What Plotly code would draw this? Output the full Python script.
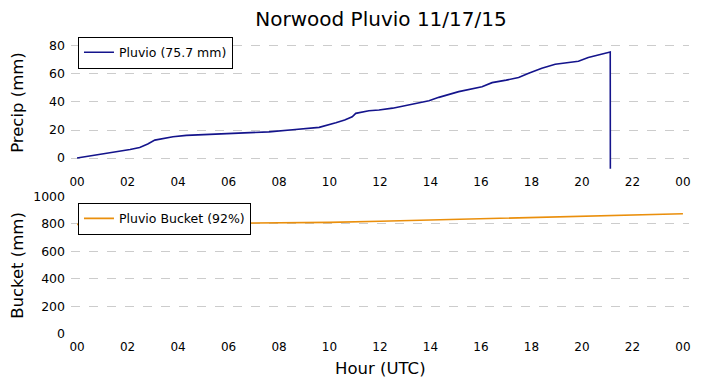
import plotly.graph_objects as go
from plotly.subplots import make_subplots

# ---- data ----
precip_hours = [0.0, 0.63, 1.43, 2.1, 2.48, 2.8, 3.08, 3.45, 3.80, 4.33, 5.25, 6.96, 7.6, 8.54,
                9.59, 10.25, 10.60, 10.90, 11.04, 11.56, 11.96, 12.5, 12.88, 13.94, 14.33,
                15.12, 16.04, 16.44, 17.00, 17.49, 17.89, 18.41, 18.94, 19.40, 19.86, 20.25,
                20.70, 21.12, 21.13]
precip_mm = [0.0, 1.7, 3.8, 6.1, 7.6, 10.0, 12.8, 14.2, 15.2, 16.2, 16.9, 17.8, 18.7, 20.2,
             21.9, 25.2, 27.2, 29.5, 31.9, 33.8, 34.3, 35.6, 37.1, 40.9, 43.3,
             47.4, 50.9, 53.8, 55.6, 57.4, 60.5, 64.1, 66.9, 67.8, 69.1, 71.7,
             73.5, 75.7, -100.0]

bucket_hours = [0.0, 3.0, 7.0, 8.5, 10.0, 12.0, 15.5, 18.2, 21.4, 24.0]
bucket_mm = [797, 800, 803, 806, 811, 819, 834, 845, 862, 874]

tick_hours = [0, 2, 4, 6, 8, 10, 12, 14, 16, 18, 20, 22, 24]
tick_labels = ["00", "02", "04", "06", "08", "10", "12", "14", "16", "18", "20", "22", "00"]

precip_ticks = [0, 20, 40, 60, 80]
bucket_ticks = [0, 200, 400, 600, 800, 1000]

title = "Norwood Pluvio 11/17/15"
precip_name = "Pluvio (75.7 mm)"
bucket_name = "Pluvio Bucket (92%)"

FONT = "DejaVu Sans"

fig = make_subplots(rows=2, cols=1, vertical_spacing=0.0)

fig.add_trace(go.Scatter(x=precip_hours, y=precip_mm, mode="lines", name=precip_name,
                         line=dict(color="#14148c", width=1.6), legend="legend"), row=1, col=1)
fig.add_trace(go.Scatter(x=bucket_hours, y=bucket_mm, mode="lines", name=bucket_name,
                         line=dict(color="#ea8f0c", width=1.6), legend="legend2"), row=2, col=1)

xcommon = dict(range=[-0.24, 24.24], tickmode="array", tickvals=tick_hours, ticktext=tick_labels,
               showgrid=False, zeroline=False, showline=False, ticks="",
               tickfont=dict(family=FONT, size=12, color="black"), ticklabelstandoff=4)
ycommon = dict(showgrid=True, gridcolor="#cccccc", griddash="dash", gridwidth=1,
               zeroline=False, showline=False, ticks="",
               tickfont=dict(family=FONT, size=12.5, color="black"), ticklabelstandoff=5)

fig.update_layout(
    width=703, height=388,
    margin=dict(l=71, r=12, t=36, b=54),
    paper_bgcolor="white", plot_bgcolor="white",
    font=dict(family=FONT, color="black"),
    title=dict(text=title, x=381 / 703, xanchor="center", y=1 - 19 / 388, yanchor="middle",
               font=dict(family=FONT, size=20, color="black")),
    xaxis=dict(domain=[0, 1], **xcommon),
    xaxis2=dict(domain=[0, 1], **xcommon),
    yaxis=dict(domain=[0.5547, 1.0], range=[-7.57, 87.06], tickvals=precip_ticks, **ycommon),
    yaxis2=dict(domain=[0.0, 0.4617], range=[0, 1000], tickvals=bucket_ticks, **ycommon),
    legend=dict(x=0.0113, y=0.998, xanchor="left", yanchor="top", bordercolor="black",
                borderwidth=1, bgcolor="white", font=dict(family=FONT, size=12.5, color="black"),
                itemwidth=30, tracegroupgap=0),
    legend2=dict(x=0.0113, y=0.4406, xanchor="left", yanchor="top", bordercolor="black",
                 borderwidth=1, bgcolor="white", font=dict(family=FONT, size=12.5, color="black"),
                 itemwidth=30, tracegroupgap=0),
    showlegend=True,
    annotations=[
        dict(text="Precip (mm)", xref="paper", yref="paper", x=(17.5 - 71) / 620, y=(334.3 - 102.5) / 298,
             xanchor="center", yanchor="middle", textangle=-90, showarrow=False,
             font=dict(family=FONT, size=16.5, color="black")),
        dict(text="Bucket (mm)", xref="paper", yref="paper", x=(17.5 - 71) / 620, y=(334.3 - 265.5) / 298,
             xanchor="center", yanchor="middle", textangle=-90, showarrow=False,
             font=dict(family=FONT, size=16.5, color="black")),
        dict(text="Hour (UTC)", xref="paper", yref="paper", x=(381 - 71) / 620, y=(334.3 - 369) / 298,
             xanchor="center", yanchor="middle", showarrow=False,
             font=dict(family=FONT, size=16.5, color="black")),
    ],
)

fig.write_html("out.html", config={"displayModeBar": False},
               post_script="document.body.style.margin='0px';")
